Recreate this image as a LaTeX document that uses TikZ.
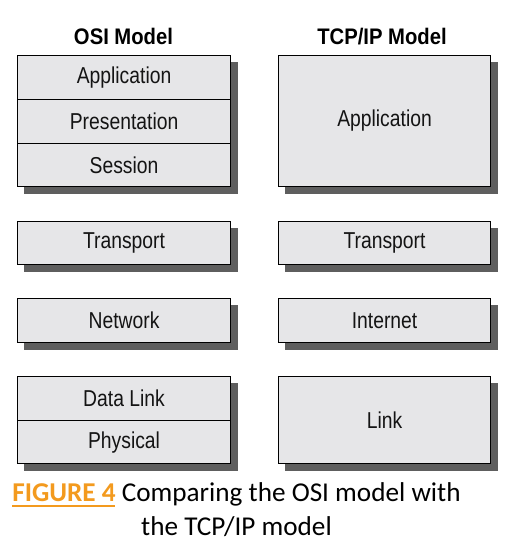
\documentclass[tikz,border=0pt]{standalone}
\usepackage{fontspec}
\setmainfont{Liberation Sans}
\newfontfamily\layfont[FakeStretch=0.84]{Liberation Sans}
\newfontfamily\titlefont[FakeStretch=0.9]{Liberation Sans}
\newfontfamily\capfont{Carlito}
\usetikzlibrary{backgrounds}
\definecolor{boxfill}{HTML}{E6E6E8}
\definecolor{shadowc}{HTML}{5E5E5E}
\definecolor{figorange}{HTML}{F39A1E}
\definecolor{textc}{HTML}{141414}
\begin{document}
\begin{tikzpicture}[x=1pt,y=-1pt,
  layer/.style={draw=black,line width=1.1pt,fill=boxfill,rectangle,inner sep=0pt,
    minimum width=213pt,anchor=north west,text=textc,
    font=\layfont\fontsize{23}{25}\selectfont},
  tlayer/.style={layer,minimum width=212pt},
  ttl/.style={anchor=base,font=\titlefont\bfseries\fontsize{22.5}{25}\selectfont,text=black},
  shadowbox/.style={fill=shadowc}]
\useasboundingbox (0,0) rectangle (508,553);
% titles
\node[ttl] (osit) at (123.5,45) {OSI Model};
\node[ttl] (tcpt) at (382,45) {TCP/IP Model};
% OSI layers
\node[layer,minimum height=44pt] (oapp) at (17,55) {Application};
\node[layer,minimum height=44pt] (opre) at (17,99) {Presentation};
\node[layer,minimum height=43pt] (oses) at (17,143) {Session};
\node[layer,minimum height=43pt] (otra) at (17,221) {Transport};
\node[layer,minimum height=44pt] (onet) at (17,298) {Network};
\node[layer,minimum height=44pt] (odat) at (17,376) {Data Link};
\node[layer,minimum height=43pt] (ophy) at (17,420) {Physical};
% TCP/IP layers
\node[tlayer,minimum height=131pt] (tapp) at (278,55) {Application};
\node[tlayer,minimum height=43pt] (ttra) at (278,221) {Transport};
\node[tlayer,minimum height=44pt] (tint) at (278,298) {Internet};
\node[tlayer,minimum height=87pt] (tlin) at (278,376) {Link};
% shadows
\begin{scope}[on background layer]
\fill[white] (0,0) rectangle (508,553);
\fill[shadowbox] ([shift={(7,7)}]oapp.north west) rectangle ([shift={(7,7)}]oses.south east);
\fill[shadowbox] ([shift={(7,7)}]otra.north west) rectangle ([shift={(7,7)}]otra.south east);
\fill[shadowbox] ([shift={(7,7)}]onet.north west) rectangle ([shift={(7,7)}]onet.south east);
\fill[shadowbox] ([shift={(7,7)}]odat.north west) rectangle ([shift={(7,7)}]ophy.south east);
\fill[shadowbox] ([shift={(7,7)}]tapp.north west) rectangle ([shift={(7,7)}]tapp.south east);
\fill[shadowbox] ([shift={(7,7)}]ttra.north west) rectangle ([shift={(7,7)}]ttra.south east);
\fill[shadowbox] ([shift={(7,7)}]tint.north west) rectangle ([shift={(7,7)}]tint.south east);
\fill[shadowbox] ([shift={(7,7)}]tlin.north west) rectangle ([shift={(7,7)}]tlin.south east);
\end{scope}
% caption
\node[anchor=base,font=\capfont\fontsize{27.2}{34}\selectfont,align=center,inner sep=0pt] (cap) at (236.5,535)
  {\textcolor{figorange}{\textbf{FIGURE 4}} Comparing the OSI model with\\the TCP/IP model};
\draw[figorange,line width=2pt] (12,506) -- (115,506);
\end{tikzpicture}
\end{document}
